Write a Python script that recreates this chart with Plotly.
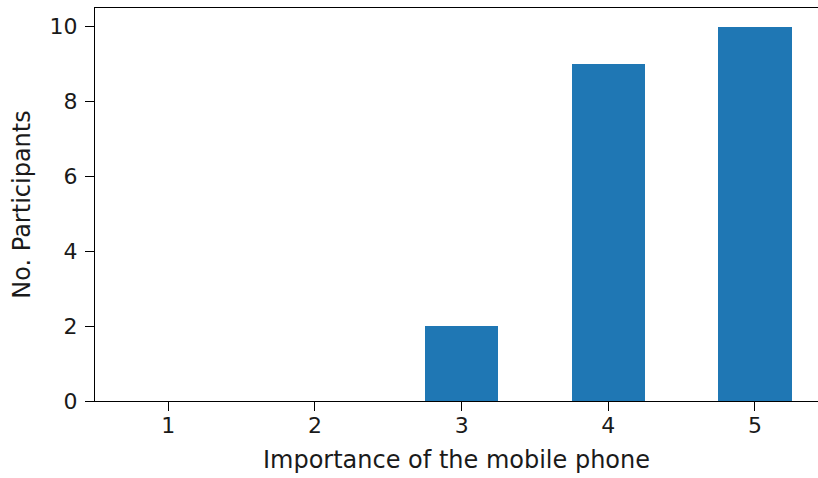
import plotly.graph_objects as go

# Survey responses: how important the mobile phone is (1-5 scale)
ratings = [1, 2, 3, 4, 5]
participants = [0, 0, 2, 9, 10]

y_ticks = [0, 2, 4, 6, 8, 10]

FONT = "DejaVu Sans"
TICK_FS = 22
TITLE_FS = 24
INK = "#1a1a1a"

fig = go.Figure(
    go.Bar(
        x=ratings,
        y=participants,
        width=0.5,
        marker=dict(color="#1f77b4", line=dict(width=0)),
    )
)

fig.update_layout(
    width=818,
    height=478,
    margin=dict(l=95, r=0, t=7.5, b=77.3),
    plot_bgcolor="white",
    paper_bgcolor="white",
    font=dict(family=FONT, size=TICK_FS, color=INK),
    showlegend=False,
    bargap=0,
)

fig.update_xaxes(
    range=[0.5, 5.43],
    tickmode="array",
    tickvals=ratings,
    ticktext=[str(r) for r in ratings],
    ticks="outside",
    ticklen=9,
    tickwidth=1.3,
    tickcolor="black",
    ticklabelstandoff=-5,
    showline=True,
    linecolor="black",
    linewidth=1.3,
    mirror=True,
    showgrid=False,
    zeroline=False,
    title=dict(text="Importance of the mobile phone", standoff=14, font=dict(size=TITLE_FS)),
)

fig.update_yaxes(
    range=[0, 10.5],
    tickmode="array",
    tickvals=y_ticks,
    ticktext=[str(v) for v in y_ticks],
    ticks="outside",
    ticklen=9,
    tickwidth=1.3,
    tickcolor="black",
    ticklabelstandoff=3,
    showline=True,
    linecolor="black",
    linewidth=1.3,
    showgrid=False,
    zeroline=False,
    title=dict(text="No. Participants", standoff=12, font=dict(size=TITLE_FS)),
)

fig.write_html("out.html")
